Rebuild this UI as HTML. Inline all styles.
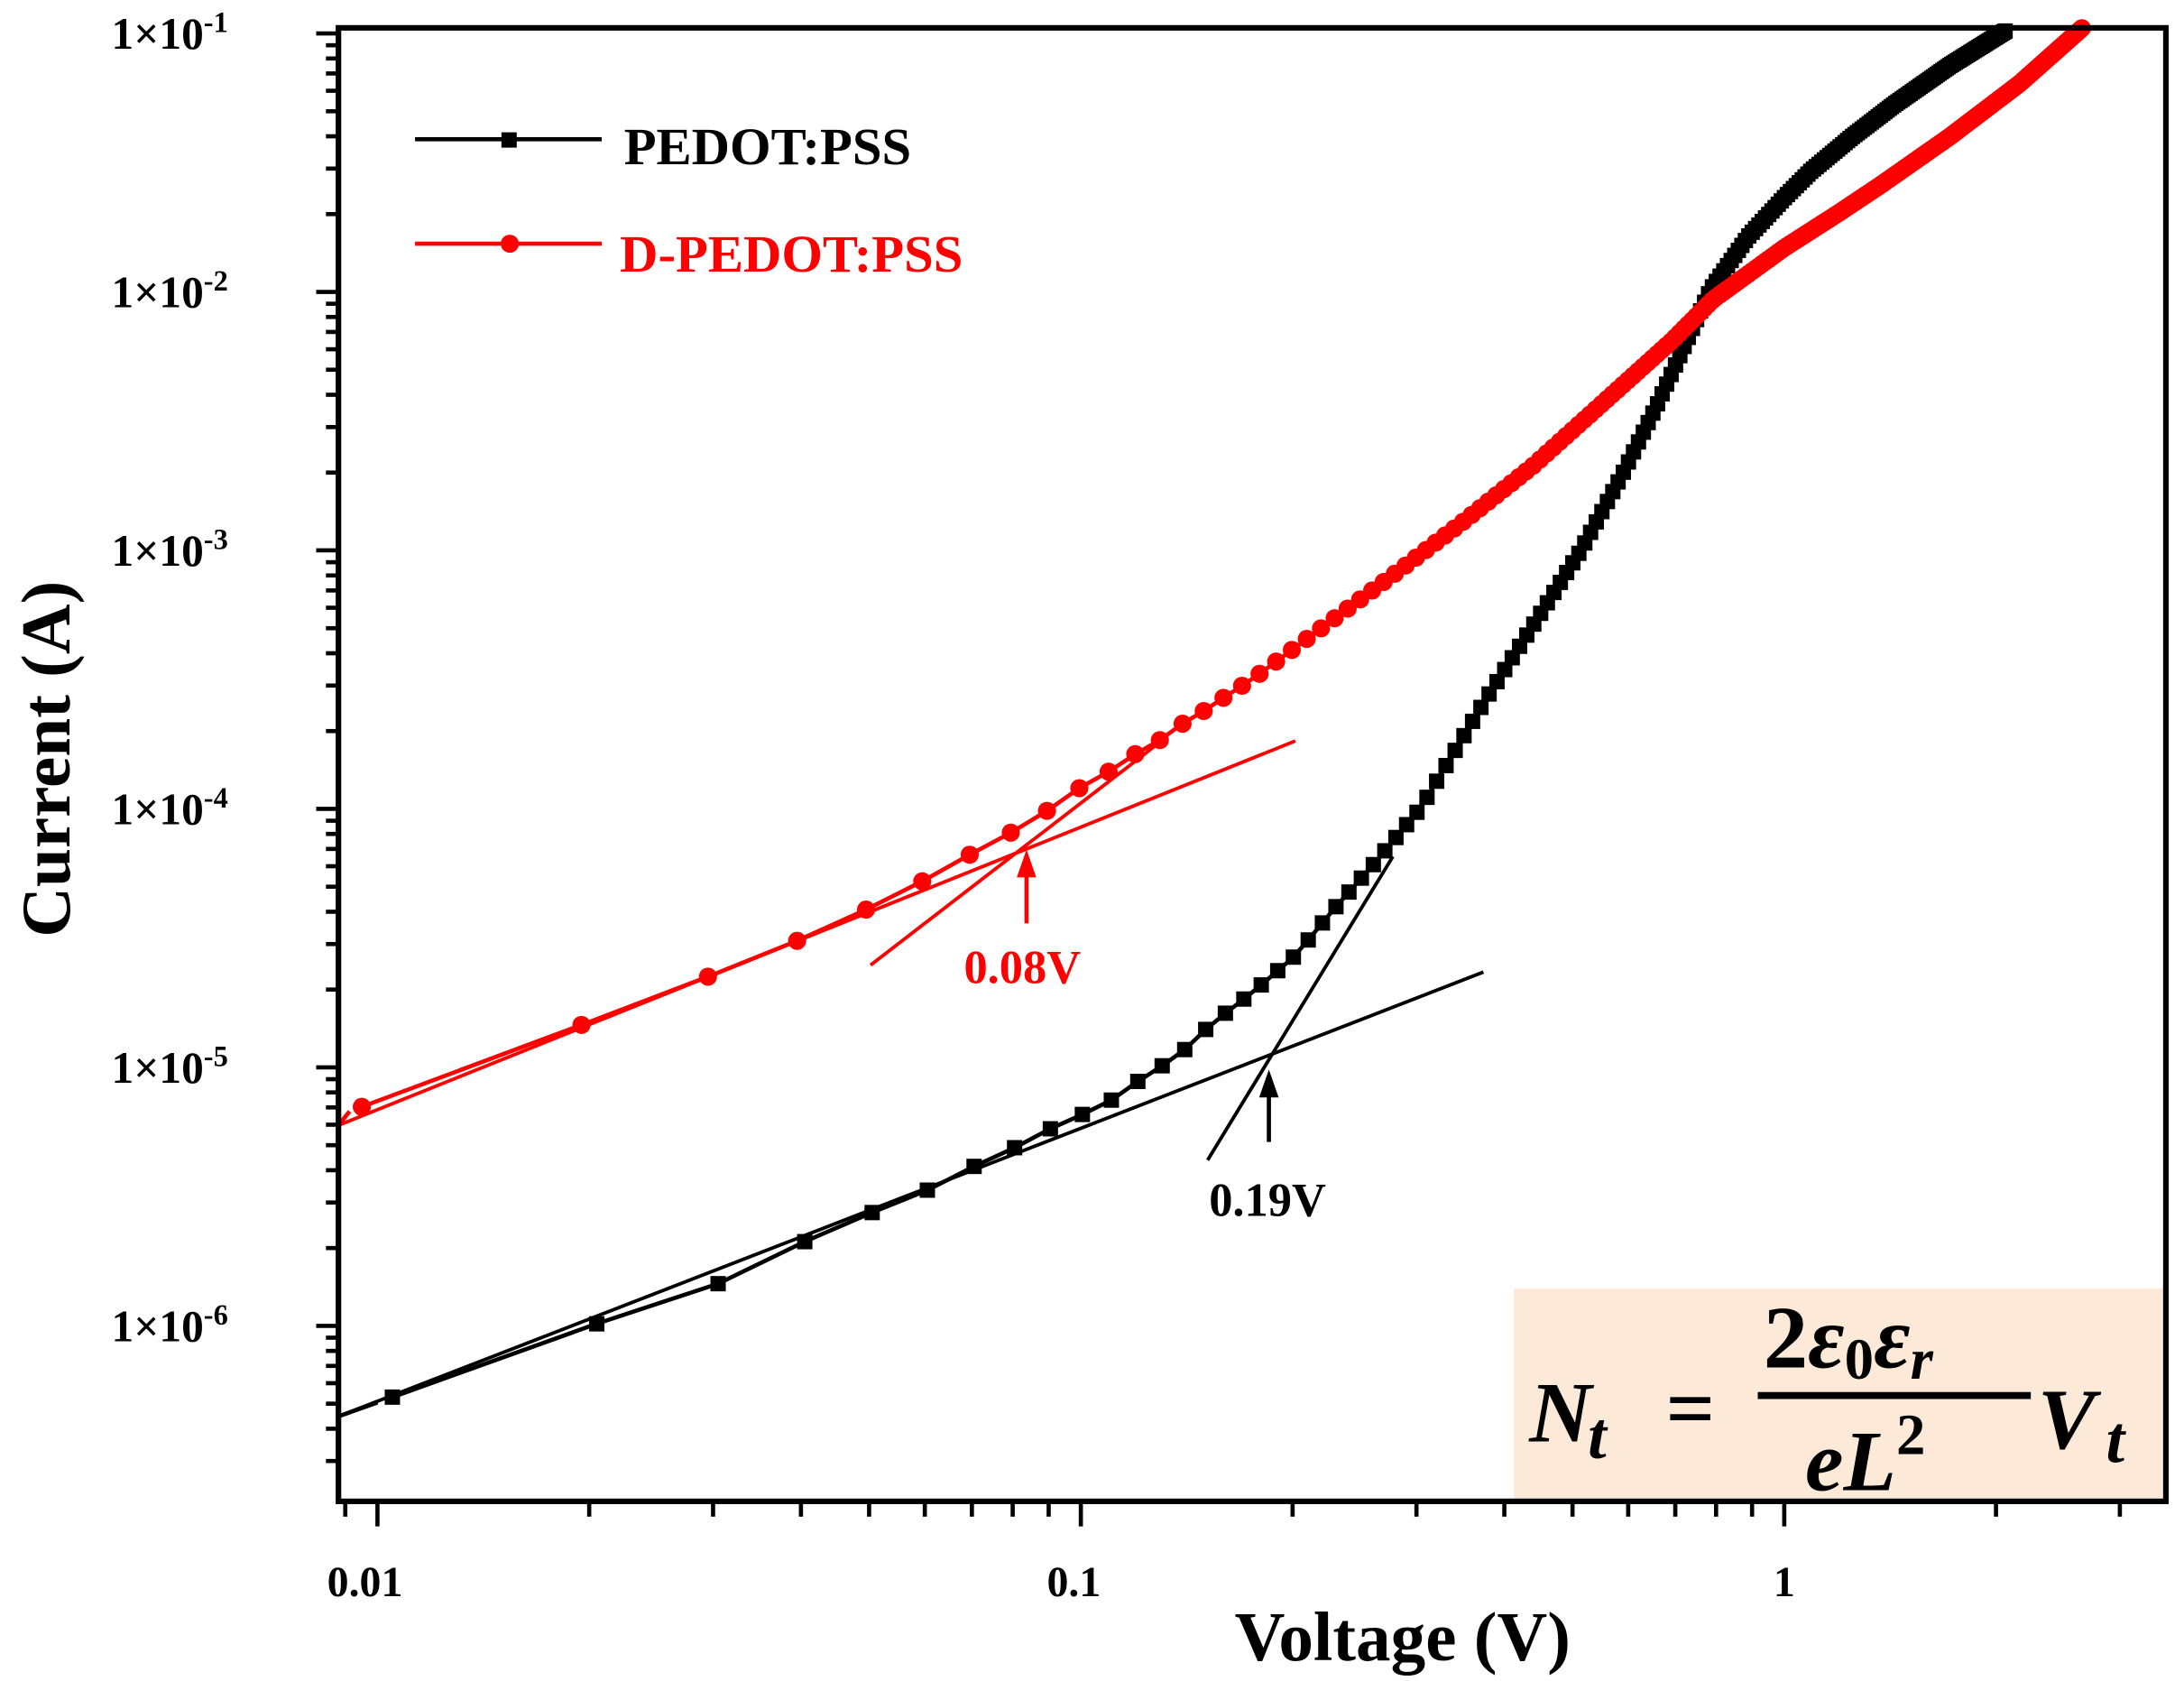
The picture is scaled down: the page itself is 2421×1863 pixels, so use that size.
<!DOCTYPE html>
<html><head><meta charset="utf-8"><style>
html,body{margin:0;padding:0;background:#fff;}
svg{display:block;}
text{font-family:"Liberation Serif",serif;font-weight:bold;}
</style></head><body>
<svg id="s" width="2421" height="1863" viewBox="0 0 1568 1207" preserveAspectRatio="none" xmlns="http://www.w3.org/2000/svg">
<rect x="0" y="0" width="1568" height="1207" fill="#fff"/>
<rect x="1087" y="925" width="466" height="151" fill="#fde9d7"/>
<g id="ticks" stroke="#000" stroke-width="3"></g>
<g id="curves"></g>
<line x1="243" y1="808" x2="930" y2="532" stroke="#f00" stroke-width="2.5"/>
<line x1="625" y1="693" x2="830" y2="535" stroke="#f00" stroke-width="2.5"/>
<line x1="243" y1="1017" x2="1065" y2="698" stroke="#000" stroke-width="2.5"/>
<line x1="867" y1="833" x2="1000" y2="615" stroke="#000" stroke-width="2.5"/>
<line x1="737" y1="663" x2="737" y2="625" stroke="#f00" stroke-width="3"/>
<polygon points="737,610 730,630 744,630" fill="#f00"/>
<text x="692" y="706" font-size="34" fill="#f00">0.08V</text>
<line x1="911" y1="820" x2="911" y2="783" stroke="#000" stroke-width="3"/>
<polygon points="911,768 904,788 918,788" fill="#000"/>
<text x="868" y="873" font-size="34" fill="#000">0.19V</text>
<rect x="243" y="20" width="1312" height="1058" fill="none" stroke="#000" stroke-width="4"/>
<line x1="298" y1="100" x2="432" y2="100" stroke="#000" stroke-width="3"/>
<rect x="360" y="95" width="11" height="11" fill="#000"/>
<text x="448" y="118" font-size="38" fill="#000">PEDOT:PSS</text>
<line x1="298" y1="175" x2="432" y2="175" stroke="#f00" stroke-width="3"/>
<circle cx="366" cy="175" r="6.5" fill="#f00"/>
<text x="445" y="195" font-size="38" fill="#f00">D-PEDOT:PSS</text>
<text x="1007" y="1192" font-size="50" text-anchor="middle">Voltage (V)</text>
<text transform="translate(50,545) rotate(-90)" font-size="50" text-anchor="middle">Current (A)</text>
<g font-size="31" text-anchor="middle">
<text x="262" y="1146">0.01</text>
<text x="771" y="1146">0.1</text>
<text x="1281" y="1146">1</text>
</g>
<g id="ylab" font-size="32" font-weight="normal"></g>
<g font-family="Liberation Serif" font-weight="bold" font-style="italic">
<text x="1098" y="1035" font-size="62">N</text>
<text x="1140" y="1047" font-size="48">t</text>
<text x="1196" y="1032" font-size="62" font-style="normal">=</text>
<line x1="1262" y1="1002" x2="1458" y2="1002" stroke="#000" stroke-width="5"/>
<text x="1266" y="982" font-size="64"><tspan font-style="normal">2</tspan>ε<tspan font-size="42" font-style="normal" dy="8">0</tspan><tspan dy="-8">ε</tspan><tspan font-size="42" dy="8">r</tspan></text>
<text x="1296" y="1070" font-size="62">eL<tspan font-size="42" font-style="normal" dy="-26">2</tspan></text>
<text x="1463" y="1040" font-size="62">V</text>
<text x="1512" y="1050" font-size="48">t</text>
</g>
</svg>
<script>
var NS="http://www.w3.org/2000/svg";
function X(v){return 271+(Math.log10(v)+2)*505;}
function Y(i){return 952-(Math.log10(i)+6)*185.6;}
function el(t,a,p){var e=document.createElementNS(NS,t);for(var k in a)e.setAttribute(k,a[k]);p.appendChild(e);return e;}
var tk=document.getElementById("ticks"),yl=document.getElementById("ylab");
for(var d=-7;d<=-1;d++){for(var m=1;m<10;m++){var v=m*Math.pow(10,d);var y=Y(v);if(y<20||y>1078)continue;
 var L=m==1?16:9;el("line",{x1:243-L,y1:y,x2:243,y2:y},tk);}
 var y0=Y(Math.pow(10,d));if(y0>=20&&y0<=1078){var t=el("text",{x:80,y:y0+11},yl);t.innerHTML='1×10<tspan font-size="21" dy="-12">'+d+'</tspan>';}}
for(var d=-3;d<=0;d++){for(var m=1;m<10;m++){var v=m*Math.pow(10,d);var x=X(v);if(x<243||x>1555)continue;
 var L=m==1?18:11;el("line",{x1:x,y1:1078,x2:x,y2:1078+L},tk);}}
function ip(pts,x){for(var i=0;i<pts.length-1;i++){var a=pts[i],b=pts[i+1];if(x<=b[0]||i==pts.length-2){return a[1]+(x-a[0])/(b[0]-a[0])*(b[1]-a[1]);}}}
var blk=[[271,1007],[424,952],[515,922],[570,895],[617,874],[658,859],[686,843],[720,829],[744,815],[771,803],[795,792],[813,779],[830,768],[846,758],[870,735],[900,712],[930,686],[960,650],[985,622],[1020,580],[1068,500],[1100,450],[1135,395],[1165,340],[1190,290],[1228,208],[1255,170],[1281,142],[1300,123],[1330,98],[1360,75],[1400,47],[1440,22]];
var red=[[251,798],[412,738],[504,703],[569,677],[618,655],[660,634],[690,617],[722,600],[748,585],[769,569],[792,557],[808,545],[828,535],[845,522],[862,512],[880,500],[900,487],[950,450],[1000,413],[1050,375],[1100,335],[1150,290],[1200,245],[1230,215],[1281,178],[1320,153],[1350,133],[1400,98],[1450,60],[1495,20]];
var cv=document.getElementById("curves");
function draw(pts,vmin,col,sq){var d="",xs=[];var xmax=pts[pts.length-1][0];
 for(var v=vmin;;v+=0.01){var x=X(v);if(x>xmax)break;xs.push([x,ip(pts,x)]);}
 xs.forEach(function(p,i){d+=(i?"L":"M")+p[0].toFixed(1)+" "+p[1].toFixed(1);});
 el("path",{d:d,fill:"none",stroke:col,"stroke-width":3},cv);
 xs.forEach(function(p){if(sq)el("rect",{x:p[0]-5.5,y:p[1]-5.5,width:11,height:11,fill:col},cv);else el("circle",{cx:p[0],cy:p[1],r:6.5,fill:col},cv);});}
draw(blk,0.0105,"#000",true);
draw(red,0.0095,"#f00",false);
el("path",{d:"M243 808 L251 798",stroke:"#f00","stroke-width":3},cv);
el("path",{d:"M243 1017 L271 1007",stroke:"#000","stroke-width":3},cv);
</script>
</body></html>
